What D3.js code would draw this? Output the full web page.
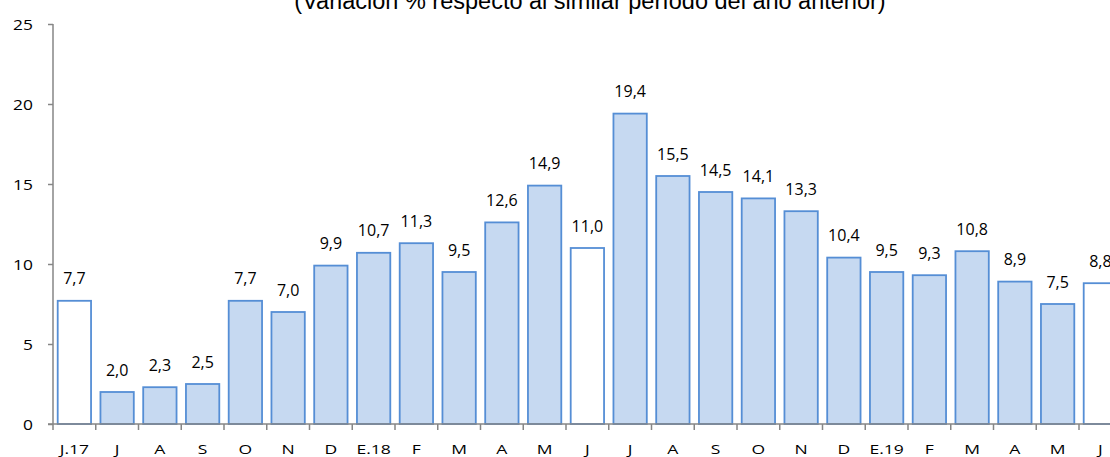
<!DOCTYPE html>
<html>
<head>
<meta charset="utf-8">
<script src="https://cdn.jsdelivr.net/npm/d3@7"></script>
<style>
  body { margin: 0; background: #fff; }
  svg { display: block; }
</style>
</head>
<body>
<div id="my_chart"></div>
<script>
// data
const months = ["J.17", "J", "A", "S", "O", "N", "D", "E.18", "F", "M", "A", "M",
                "J", "J", "A", "S", "O", "N", "D", "E.19", "F", "M", "A", "M", "J"];
const values = [7.7, 2.0, 2.3, 2.5, 7.7, 7.0, 9.9, 10.7, 11.3, 9.5, 12.6, 14.9,
                11.0, 19.4, 15.5, 14.5, 14.1, 13.3, 10.4, 9.5, 9.3, 10.8, 8.9, 7.5, 8.8];
// June bars are drawn hollow
const hollow = [true, false, false, false, false, false, false, false, false, false, false, false,
                true, false, false, false, false, false, false, false, false, false, false, false, true];
const yTicks = [0, 5, 10, 15, 20, 25];
const title = "(Variación % respecto al similar período del año anterior)";

const W = 1110, H = 457;
const left = 53, zeroY = 424, topY = 24, step = 42.75;

const svg = d3.select("#my_chart")
    .append("svg")
    .attr("width", W)
    .attr("height", H);

// title (cut off at the top, as in the source)
svg.append("text")
    .attr("x", 590)
    .attr("y", 9)
    .attr("text-anchor", "middle")
    .style("font-family", "'Liberation Sans', Arial, sans-serif")
    .style("font-size", "23.5px")
    .attr("fill", "#000")
    .text(title);

// scales
const x = d3.scaleBand()
    .domain(d3.range(months.length))
    .range([left, left + step * months.length])
    .paddingInner(0.22)
    .paddingOuter(0.11);

const y = d3.scaleLinear()
    .domain([0, 25])
    .range([zeroY, topY]);

const axisColor = "#868686";
const font = "'Open Sans', 'Noto Sans', sans-serif";

// Y axis
const yAxis = svg.append("g")
    .attr("transform", `translate(${left},0)`)
    .call(d3.axisLeft(y).tickValues(yTicks).tickSize(5).tickFormat(d3.format("d")));
yAxis.select(".domain").attr("stroke", axisColor).attr("stroke-width", 1.5)
    .attr("d", `M0,${topY}V${zeroY}`);
yAxis.selectAll(".tick line").attr("stroke", axisColor).attr("stroke-width", 1.5);
yAxis.selectAll(".tick text")
    .attr("x", 0)
    .attr("dy", null)
    .attr("transform", "translate(-20,5.5) scale(1.16,1)")
    .style("font-family", font)
    .style("font-size", "15px")
    .attr("fill", "#000");

// Bars
svg.append("g")
    .selectAll("rect")
    .data(values)
    .join("rect")
    .attr("x", (d, i) => x(i))
    .attr("width", x.bandwidth())
    .attr("y", d => y(d))
    .attr("height", d => y(0) - y(d))
    .attr("fill", (d, i) => hollow[i] ? "#ffffff" : "#c6d9f1")
    .attr("stroke", "#558ed5")
    .attr("stroke-width", 1.8);

// Data labels
svg.append("g")
    .selectAll("text")
    .data(values)
    .join("text")
    .attr("x", (d, i) => x(i) + x.bandwidth() / 2)
    .attr("y", d => y(d) - 16.5)
    .attr("text-anchor", "middle")
    .style("font-family", font)
    .style("font-size", "16px")
    .attr("fill", "#000")
    .text(d => d3.format(".1f")(d).replace(".", ","));

// X axis: line, ticks between categories, labels centered
const xg = svg.append("g");
xg.append("line")
    .attr("x1", left - 5).attr("x2", W)
    .attr("y1", zeroY).attr("y2", zeroY)
    .attr("stroke", axisColor).attr("stroke-width", 1.5);
xg.selectAll(".xtick")
    .data(d3.range(months.length))
    .join("line")
    .attr("class", "xtick")
    .attr("x1", i => x(i) - x.step() * x.paddingInner() / 2)
    .attr("x2", i => x(i) - x.step() * x.paddingInner() / 2)
    .attr("y1", zeroY).attr("y2", zeroY + 6)
    .attr("stroke", axisColor).attr("stroke-width", 1.5);
xg.selectAll(".xlabel")
    .data(months)
    .join("text")
    .attr("class", "xlabel")
    .attr("transform", (d, i) => `translate(${x(i) + x.bandwidth() / 2},454) scale(1.3,1)`)
    .attr("text-anchor", "middle")
    .style("font-family", font)
    .style("font-size", "13.5px")
    .attr("fill", "#000")
    .text(d => d);
</script>
</body>
</html>
